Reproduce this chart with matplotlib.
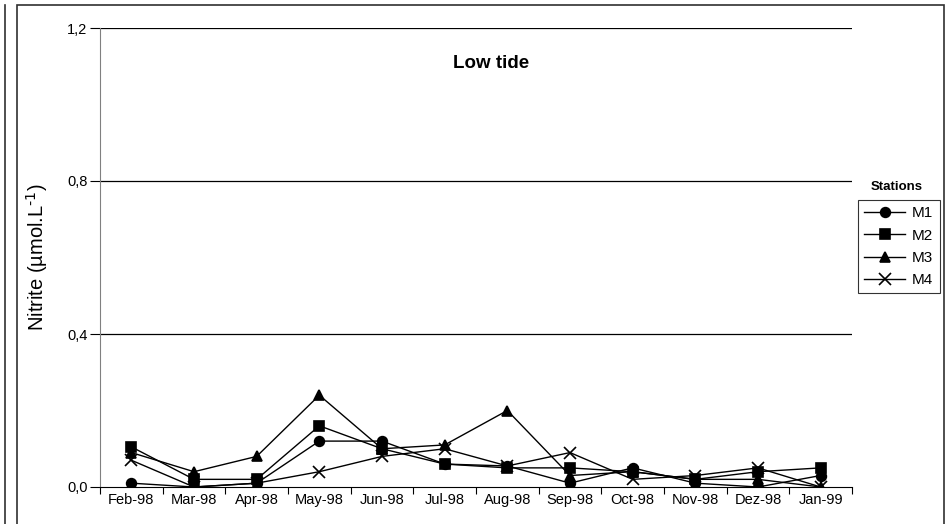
import matplotlib
matplotlib.use("Agg")
import matplotlib.pyplot as plt
import numpy as np
from matplotlib.patches import Rectangle
from matplotlib.lines import Line2D

plt.rcParams['font.family'] = ['Liberation Sans', 'DejaVu Sans']

months = ["Feb-98", "Mar-98", "Apr-98", "May-98", "Jun-98", "Jul-98",
          "Aug-98", "Sep-98", "Oct-98", "Nov-98", "Dez-98", "Jan-99"]
m1 = [0.01, 0.00, 0.01, 0.12, 0.12, 0.06, 0.055, 0.01, 0.05, 0.01, 0.00, 0.03]
m2 = [0.105, 0.02, 0.02, 0.16, 0.10, 0.06, 0.05, 0.05, 0.04, 0.02, 0.04, 0.05]
m3 = [0.09, 0.04, 0.08, 0.24, 0.10, 0.11, 0.20, 0.03, 0.04, 0.02, 0.02, 0.00]
m4 = [0.07, 0.00, 0.01, 0.04, 0.08, 0.10, 0.055, 0.09, 0.02, 0.03, 0.05, 0.00]
stations = ["M1", "M2", "M3", "M4"]
markers = ["o", "s", "^", "x"]
msizes = [7, 6.5, 7.5, 8]

fig = plt.figure(figsize=(9.52, 5.24), dpi=100)
ax = fig.add_axes([100 / 952, 37 / 524, 752 / 952, 459 / 524])

x = np.arange(len(months))
for vals, mk, ms in zip([m1, m2, m3, m4], markers, msizes):
    ax.plot(x, vals, color="black", lw=1, marker=mk, ms=ms, mew=1.2)

ax.set_xlim(-0.5, 11.5)
ax.set_ylim(0, 1.2)
ax.set_yticks([0, 0.4, 0.8, 1.2])
ax.set_yticklabels(["0,0", "0,4", "0,8", "1,2"])
ax.set_xticks(x)
ax.set_xticklabels(months)
ax.set_xticks(np.arange(-0.5, 12, 1), minor=True)
ax.tick_params(axis="x", which="major", length=0, pad=4, labelsize=10.5)
ax.tick_params(axis="x", which="minor", length=5, direction="out", width=0.8)
ax.tick_params(axis="y", length=7, direction="out", labelsize=10.5, width=0.8, pad=2)
for yv in [0.4, 0.8, 1.2]:
    ax.axhline(yv, color="black", lw=0.9, zorder=0)
ax.spines["top"].set_visible(False)
ax.spines["right"].set_visible(False)
ax.spines["left"].set_color("#808080")
ax.spines["bottom"].set_color("black")
ax.set_ylabel("Nitrite (µmol.L$^{\\text{-1}}$)", fontsize=14.5, labelpad=12)
ax.text(0.52, 0.922, "Low tide", transform=ax.transAxes, ha="center",
        va="center", fontsize=13.5, fontweight="bold")

handles = [Line2D([], [], color="black", lw=1, marker=mk, ms=ms, mew=1.2)
           for mk, ms in zip(markers, msizes)]
leg = fig.legend(handles, stations, loc="upper left",
                 bbox_to_anchor=(858 / 952, 1 - 200 / 524), frameon=True,
                 fancybox=False, edgecolor="black", fontsize=11,
                 handlelength=2.7, handletextpad=0.45, borderpad=0.4,
                 labelspacing=0.55, borderaxespad=0)
leg.get_frame().set_linewidth(0.8)
fig.text(897 / 952, 1 - 187 / 524, "Stations", ha="center", va="center",
         fontsize=9.5, fontweight="bold")

# outer frames
fig.patches.append(Rectangle((17 / 952, -0.05), 927 / 952, 1.05 - 5 / 524,
                             transform=fig.transFigure, fill=False,
                             edgecolor="#303030", lw=1.2))
fig.lines.append(Line2D([5 / 952, 5 / 952], [0, 1 - 5 / 524],
                        transform=fig.transFigure, color="#303030", lw=1.2))

fig.savefig("out.png", dpi=100)
